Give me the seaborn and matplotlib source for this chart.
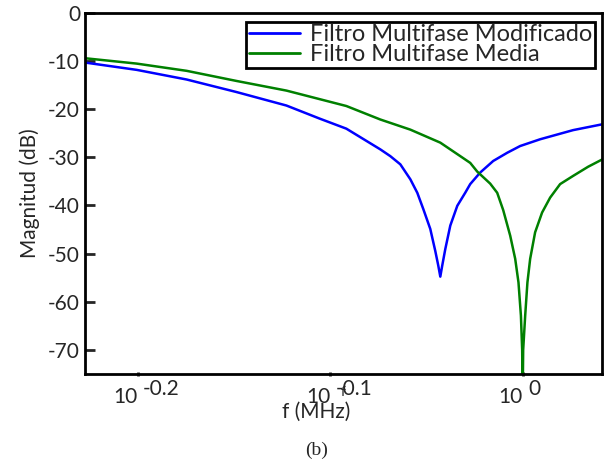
import matplotlib
matplotlib.use("Agg")
import matplotlib.pyplot as plt
from matplotlib.ticker import NullLocator, NullFormatter
import pandas as pd
import seaborn as sns

# frequency in MHz and magnitude in dB
freq_mod = [0.5930, 0.6303, 0.6691, 0.7102, 0.7539, 0.7843, 0.8099, 0.8435,
            0.8536, 0.8639, 0.8743, 0.8816, 0.8880, 0.8954, 0.9008, 0.9040,
            0.9062, 0.9083, 0.9116, 0.9171, 0.9248, 0.9336, 0.9392, 0.9505,
            0.9654, 0.9817, 0.9970, 1.0211, 1.0622, 1.0996]
mag_mod = [-10.4, -11.9, -13.9, -16.5, -19.3, -22.0, -24.1, -28.4,
           -29.8, -31.5, -34.6, -37.4, -40.8, -44.9, -49.5, -52.5,
           -54.8, -52.5, -49.1, -44.2, -40.1, -37.4, -35.6, -33.2,
           -30.8, -29.1, -27.7, -26.3, -24.4, -23.2]

freq_med = [0.5930, 0.6303, 0.6691, 0.7102, 0.7539, 0.8099, 0.8435, 0.8743,
            0.9062, 0.9281, 0.9392, 0.9471, 0.9619, 0.9700, 0.9770, 0.9852,
            0.9911, 0.9950, 0.9979, 0.9994, 1.0000, 1.0006, 1.0030, 1.0057,
            1.0090, 1.0150, 1.0235, 1.0334, 1.0458, 1.0622, 1.0814, 1.0996]
mag_med = [-9.5, -10.6, -12.1, -14.2, -16.2, -19.4, -22.2, -24.3,
           -27.0, -29.8, -31.2, -33.0, -35.5, -37.4, -41.0, -46.3,
           -51.1, -56.0, -62.9, -70.0, -80.0, -70.0, -62.9, -56.0,
           -51.1, -45.6, -41.5, -38.4, -35.6, -33.9, -32.0, -30.5]

labels = ["Filtro Multifase Modificado", "Filtro Multifase Media"]
colors = ["#0000ff", "#008000"]
y_ticks = [0, -10, -20, -30, -40, -50, -60, -70]
x_exps = ["-0.2", "-0.1", "0"]

sns.set_style("ticks")
plt.rcParams["font.family"] = ["Lato", "DejaVu Sans"]
plt.rcParams["axes.unicode_minus"] = False

df = pd.concat([
    pd.DataFrame({"f": freq_mod, "mag": mag_mod, "serie": labels[0]}),
    pd.DataFrame({"f": freq_med, "mag": mag_med, "serie": labels[1]}),
])

fig = plt.figure(figsize=(6.04, 4.65), dpi=100)
ax = fig.add_axes([0.1407, 0.1957, 0.856, 0.7774])

sns.lineplot(data=df, x="f", y="mag", hue="serie", palette=colors,
             sort=False, estimator=None, linewidth=1.8, ax=ax)

ax.set_xscale("log")
ax.set_xlim(10 ** -0.2273, 10 ** 0.0412)
ax.set_ylim(-75, 0)

ax.set_yticks(y_ticks)
ax.set_yticklabels([str(v) for v in y_ticks], fontsize=15)
ax.tick_params(axis="y", direction="in", length=7, width=2, pad=3.5,
               right=False)

# x tick labels drawn as "10" plus a full-size exponent, like the original
ticks = [10 ** float(e) for e in x_exps]
ax.set_xticks(ticks)
ax.set_xticklabels([""] * len(ticks))
ax.xaxis.set_minor_locator(NullLocator())
ax.xaxis.set_minor_formatter(NullFormatter())
ax.tick_params(axis="x", direction="inout", length=3, width=2, top=False)

for t, e in zip(ticks, x_exps):
    ax.annotate("10", xy=(t, 0), xycoords=("data", "axes fraction"),
                xytext=(0, -21), textcoords="offset points",
                ha="right", va="baseline", fontsize=15)
    ax.annotate(e, xy=(t, 0), xycoords=("data", "axes fraction"),
                xytext=(4, -15), textcoords="offset points",
                ha="left", va="baseline", fontsize=15)

for s in ax.spines.values():
    s.set_linewidth(2)
    s.set_color("black")

ax.set_ylabel("Magnitud (dB)", fontsize=15)
ax.yaxis.set_label_coords(-0.087, 0.5)
fig.text(316 / 604, 1 - 412 / 465, "f (MHz)", ha="center", va="center",
         fontsize=15)
fig.text(317 / 604, 1 - 450 / 465, "(b)", ha="center", va="center",
         fontsize=14, family="Liberation Serif")

leg = ax.legend(loc="upper right", bbox_to_anchor=(0.9865, 0.9737),
                borderaxespad=0, fontsize=17, frameon=True, fancybox=False,
                edgecolor="black", handlelength=2.2, handletextpad=0.42,
                labelspacing=-0.05, borderpad=0.1, title=None)
leg.get_frame().set_linewidth(2)
leg.get_frame().set_alpha(1)
for line in leg.get_lines():
    line.set_linewidth(2)

fig.savefig("out.png", dpi=100)
